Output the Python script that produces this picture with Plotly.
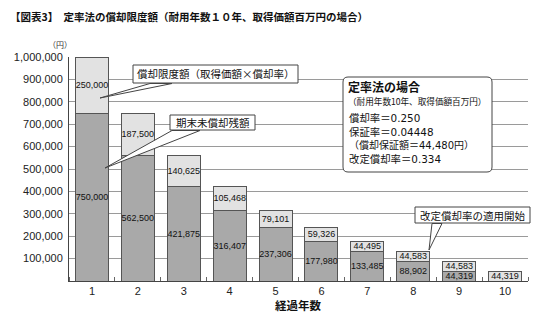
import plotly.graph_objects as go

# ---- data ----
years = [1, 2, 3, 4, 5, 6, 7, 8, 9, 10]
remaining = [750000, 562500, 421875, 316407, 237306, 177980, 133485, 88902, 44319, 0]
depreciation = [250000, 187500, 140625, 105468, 79101, 59326, 44495, 44583, 44583, 44319]
y_ticks = [100000, 200000, 300000, 400000, 500000, 600000, 700000, 800000, 900000, 1000000]

JP = "Noto Sans CJK JP"
NUM = "Liberation Sans, Arial, Noto Sans CJK JP"
BODY = "DejaVu Sans, Noto Sans CJK JP"

# plot area in pixels
L, R, T, B = 69, 528, 57, 281
W, H = 550, 318


def px(xp):
    return (xp - L) / (R - L)


def py(yp):
    return (B - yp) / (B - T)


def fmt(v):
    return f"{v:,}" if v else ""


fig = go.Figure()
fig.add_trace(go.Bar(
    x=years, y=remaining, width=0.72,
    marker=dict(color="#a9a9a9", line=dict(color="#555555", width=1)),
    text=[fmt(v) for v in remaining], textposition="inside",
    insidetextanchor="middle", textangle=0,
    textfont=dict(family=NUM, size=9, color="#111111"),
    hoverinfo="skip",
))
fig.add_trace(go.Bar(
    x=years, y=depreciation, width=0.72,
    marker=dict(color="#e2e2e2", line=dict(color="#555555", width=1)),
    text=[fmt(v) for v in depreciation], textposition="inside",
    insidetextanchor="middle", textangle=0,
    textfont=dict(family=NUM, size=9, color="#111111"),
    hoverinfo="skip",
))

shapes = []
annotations = []


def wedge(tip, b1, b2):
    path = (f"M{px(tip[0])},{py(tip[1])} L{px(b1[0])},{py(b1[1])} "
            f"L{px(b2[0])},{py(b2[1])} Z")
    shapes.append(dict(type="path", xref="paper", yref="paper", path=path,
                       fillcolor="white", line=dict(color="#444444", width=1),
                       layer="above"))


def box(x0, y0, x1, y1, text, size):
    shapes.append(dict(type="rect", xref="paper", yref="paper",
                       x0=px(x0), x1=px(x1), y0=py(y1), y1=py(y0),
                       fillcolor="white", line=dict(color="#444444", width=1),
                       layer="above"))
    annotations.append(dict(xref="paper", yref="paper",
                            x=px((x0 + x1) / 2), y=py((y0 + y1) / 2),
                            text=text, showarrow=False, xanchor="center",
                            yanchor="middle",
                            font=dict(family=JP, size=size, color="#111111")))


# callout 1
wedge((100, 98), (150, 83.5), (172, 83.5))
box(133, 65, 298, 83, "償却限度額（取得価額×償却率）", 10.5)
# callout 2
wedge((105, 168), (172, 130.5), (200, 130.5))
box(170, 115, 255, 130, "期末未償却残額", 10.5)
# callout 3
wedge((429, 250), (432, 223.5), (442, 223.5))
box(415, 207, 530, 223, "改定償却率の適用開始", 10.5)

# info box with rounded corners
x0, y0, x1, y1, r = 343, 77, 492, 172, 5
X0, X1 = px(x0), px(x1)
Y0, Y1 = py(y0), py(y1)
rx = r / (R - L)
ry = r / (B - T)
info_path = (f"M{X0 + rx},{Y0} L{X1 - rx},{Y0} Q{X1},{Y0} {X1},{Y0 - ry} "
             f"L{X1},{Y1 + ry} Q{X1},{Y1} {X1 - rx},{Y1} "
             f"L{X0 + rx},{Y1} Q{X0},{Y1} {X0},{Y1 + ry} "
             f"L{X0},{Y0 - ry} Q{X0},{Y0} {X0 + rx},{Y0} Z")
shapes.append(dict(type="path", xref="paper", yref="paper", path=info_path,
                   fillcolor="white", line=dict(color="#444444", width=1),
                   layer="above"))

header_text = ("<b><span style='font-size:12px'>定率法の場合</span></b><br>"
               "<span style='font-size:8.6px'>（耐用年数10年、取得価額百万円）</span>")
annotations.append(dict(xref="paper", yref="paper", x=px(346), y=py(92.5),
                        text=header_text, showarrow=False, xanchor="left",
                        yanchor="middle", align="left",
                        font=dict(family=JP, size=10, color="#111111")))
body_text = ("償却率＝0.250<br>"
             "保証率＝0.04448<br>"
             "<span style='font-size:10px'>（償却保証額＝44,480円）</span><br>"
             "改定償却率＝0.334")
annotations.append(dict(xref="paper", yref="paper", x=px(347), y=py(138),
                        text=body_text, showarrow=False, xanchor="left",
                        yanchor="middle", align="left",
                        font=dict(family=BODY, size=10.4, color="#111111")))

# title, unit, axis title
annotations.append(dict(xref="paper", yref="paper", x=px(8), y=py(17),
                        text="<b>【図表3】　定率法の償却限度額（耐用年数１０年、取得価額百万円の場合）</b>",
                        showarrow=False, xanchor="left", yanchor="middle",
                        font=dict(family=JP, size=10.5, color="#111111")))
annotations.append(dict(xref="paper", yref="paper", x=px(60), y=py(44),
                        text="（円）", showarrow=False, xanchor="center",
                        yanchor="middle",
                        font=dict(family=JP, size=8, color="#333333")))
annotations.append(dict(xref="paper", yref="paper", x=px(298), y=py(305),
                        text="<b>経過年数</b>", showarrow=False,
                        xanchor="center", yanchor="middle",
                        font=dict(family=JP, size=11.5, color="#111111")))

fig.update_layout(
    barmode="stack",
    width=W, height=H,
    margin=dict(l=L, r=W - R, t=T, b=H - B, pad=0),
    plot_bgcolor="white", paper_bgcolor="white",
    showlegend=False,
    shapes=shapes, annotations=annotations,
    uniformtext=dict(minsize=9, mode="show"),
    xaxis=dict(range=[0.5, 10.5], tickvals=years, ticktext=[str(v) for v in years],
               showgrid=False, zeroline=False, showline=True,
               linecolor="#444444", linewidth=1, ticks="",
               tickfont=dict(family=NUM, size=11, color="#222222"),
               minor=dict(ticks="inside", ticklen=4, tick0=0.5, dtick=1,
                          tickcolor="#666666", showgrid=False)),
    yaxis=dict(range=[0, 1000000], tickvals=y_ticks,
               ticktext=[f"{v:,}" for v in y_ticks],
               showgrid=True, gridcolor="#9a9a9a", gridwidth=1,
               zeroline=False, showline=True, linecolor="#444444",
               linewidth=1, ticks="", ticklabelstandoff=3,
               tickfont=dict(family=NUM, size=11, color="#222222")),
)

fig.write_html("out.html")
